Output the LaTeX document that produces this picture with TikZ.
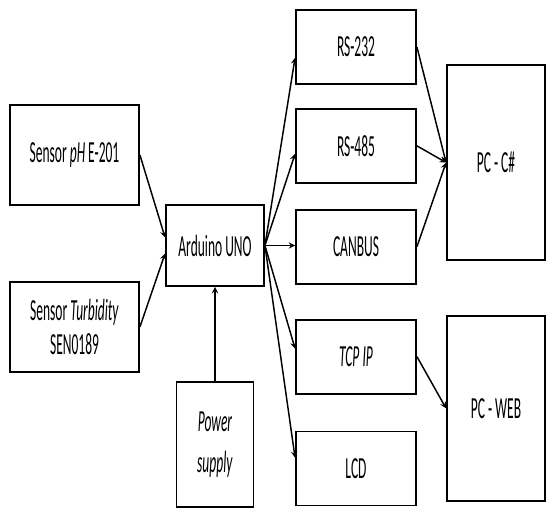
\documentclass[tikz,border=0pt]{standalone}
\usepackage{fontspec}
\setmainfont{Carlito}
\usepackage{graphicx}
\usepackage{tikz}
\usetikzlibrary{arrows,positioning}

\newcommand{\nar}[1]{\scalebox{0.44}[1]{#1}}

\begin{document}
\begin{tikzpicture}[
    x=0.75pt, y=-0.75pt,
    box/.style={rectangle, draw, line width=1.4pt, align=center, inner sep=2pt, font=\fontsize{23}{25}\selectfont},
    sensorbox/.style={box, minimum width=96.75pt, minimum height=75pt},
    busbox/.style={box, minimum width=90pt, minimum height=55.5pt},
    pcbox/.style={box, minimum width=73.5pt},
    arrow/.style={->, >=stealth, line width=1.1pt}
]
\useasboundingbox (0,0) rectangle (546,508);

% Sensors
\node[sensorbox] (ph) at (74.5,155) {\nar{Sensor \textit{pH} E-201}};
\node[sensorbox, minimum height=67.5pt, below=56.25pt of ph] (turb) {\nar{Sensor \textit{Turbidity}}\\\nar{SEN0189}};

% Controller and supply
\node[box, minimum width=73.5pt, minimum height=60.75pt] (ard) at (215,245.5) {\nar{Arduino UNO}};
\node[box, minimum width=57.75pt, minimum height=93.75pt, below=70.5pt of ard] (power) {\nar{\textit{Power}}\\[6pt]\nar{\textit{supply}}};

% Interfaces
\node[busbox] (rs232) at (356,47) {\nar{RS-232}};
\node[busbox, below=17.25pt of rs232] (rs485) {\nar{RS-485}};
\node[busbox, below=18.75pt of rs485] (canbus) {\nar{CANBUS}};
\node[busbox, below=25.5pt of canbus] (tcp) {\nar{\textit{TCP IP}}};
\node[busbox, below=27pt of tcp] (lcd) {\nar{LCD}};

% PCs
\node[pcbox, minimum height=146.25pt] (pcc) at (496,162.5) {\nar{PC - C\#}};
\node[pcbox, minimum height=138.75pt, below=40.5pt of pcc] (pcweb) {\nar{PC - WEB}};

% Arrows
\draw[arrow] (ph.east) -- ([yshift=6pt]ard.west);
\draw[arrow] (turb.east) -- ([yshift=-6pt]ard.west);
\draw[arrow] (power.north) -- (ard.south);
\draw[arrow] (ard.east) -- ([yshift=-8pt]rs232.west);
\draw[arrow] (ard.east) -- ([yshift=-6pt]rs485.west);
\draw[arrow] (ard.east) -- (ard.east -| canbus.west);
\draw[arrow] (ard.east) -- ([yshift=6pt]tcp.west);
\draw[arrow] (ard.east) -- ([yshift=8pt]lcd.west);
\draw[arrow] (rs232.east) -- (pcc.west);
\draw[arrow] (rs485.east) -- (pcc.west);
\draw[arrow] (canbus.east) -- (pcc.west);
\draw[arrow] (tcp.east) -- (pcweb.west);

\end{tikzpicture}
\end{document}
